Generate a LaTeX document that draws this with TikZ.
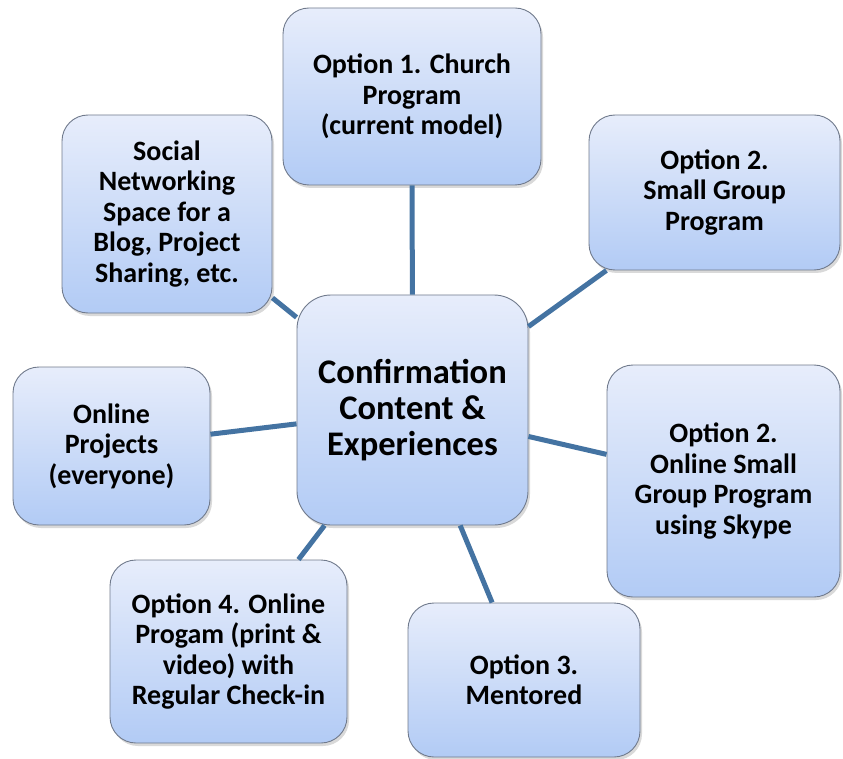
\documentclass[tikz,border=0pt]{standalone}
\usepackage{fontspec}
\setmainfont{Carlito}
\usetikzlibrary{shadows}

\definecolor{boxtop}{RGB}{231,237,251}
\definecolor{boxbottom}{RGB}{178,203,245}
\definecolor{boxline}{RGB}{112,122,140}
\definecolor{linkblue}{RGB}{68,115,162}

\begin{document}
\begin{tikzpicture}[
            x=1pt, y=-1pt,
            box/.style={draw=boxline, line width=0.9pt, rounded corners=26pt,
                top color=boxtop, bottom color=boxbottom, align=center, inner sep=2pt,
                font=\fontsize{28}{30.5}\selectfont\bfseries,
                drop shadow={shadow xshift=2pt, shadow yshift=-3pt, opacity=0.3}},
            hubbox/.style={box, rounded corners=34pt, font=\fontsize{34.5}{36}\selectfont\bfseries},
            link/.style={draw=linkblue, line width=5pt}
        ]
            \useasboundingbox (0, 0) rectangle (843, 759);
            % center
            \node[hubbox, minimum width=231pt, minimum height=230pt] (hub) at (412.5, 410) {Confirmation\\Content \&\\Experiences};
            % options
            \node[box, minimum width=258pt, minimum height=177pt] (church) at (412, 96.5) {Option 1. Church\\Program\\(current model)};
            \node[box, minimum width=210pt, minimum height=198pt] (social) at (167, 214) {Social\\Networking\\Space for a\\Blog, Project\\Sharing, etc.};
            \node[box, minimum width=251pt, minimum height=155pt] (small) at (714.5, 192.5) {Option 2.\\Small Group\\Program};
            \node[box, minimum width=197pt, minimum height=158pt] (projects) at (111.5, 446) {Online\\Projects\\(everyone)};
            \node[box, minimum width=233pt, minimum height=232pt] (skype) at (723.5, 481) {Option 2.\\Online Small\\Group Program\\using Skype};
            \node[box, minimum width=237pt, minimum height=183pt] (online) at (228.5, 651.5) {Option 4. Online\\Progam (print \&\\video) with\\Regular Check-in};
            \node[box, minimum width=232pt, minimum height=154pt] (mentored) at (524, 680) {Option 3.\\Mentored};
            % lines
            \draw[link] (hub) -- (church);
            \draw[link] (hub) -- (social);
            \draw[link] (hub) -- (small);
            \draw[link] (hub) -- (projects);
            \draw[link] (hub) -- (skype);
            \draw[link] (hub) -- (online);
            \draw[link] (hub) -- (mentored);
        \end{tikzpicture}
\end{document}
